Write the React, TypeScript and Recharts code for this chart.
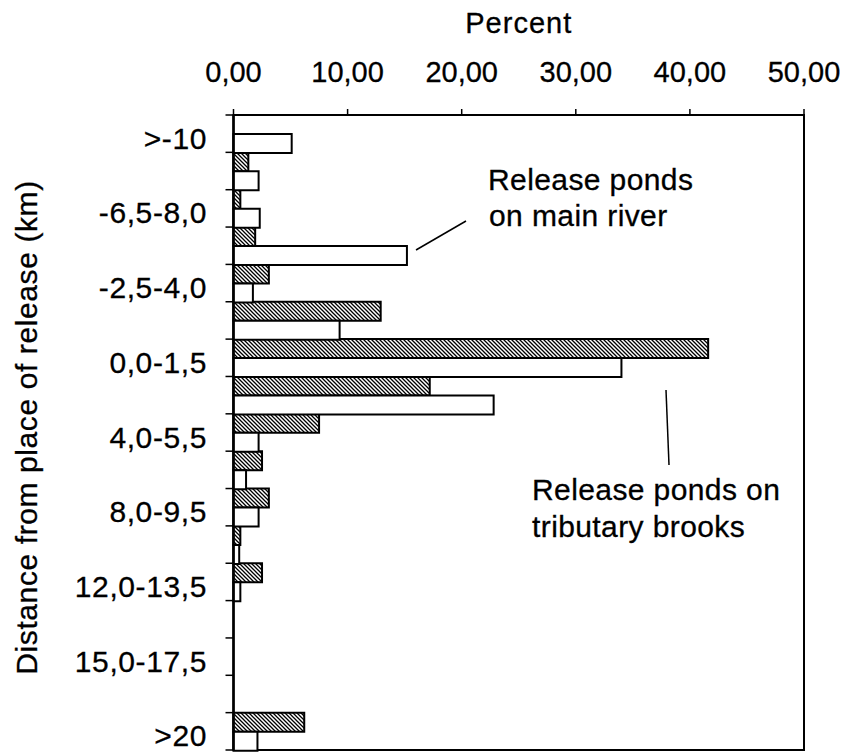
import { BarChart, Bar, XAxis, YAxis, ReferenceArea } from 'recharts';

const FONT = '"Liberation Sans", Arial, Helvetica, sans-serif';

// distance classes (km), only every other one is labelled on the axis
const DISTANCES = [
  '>-10', '-8,0-10,0', '-6,5-8,0', '-4,0-6,5', '-2,5-4,0', '-0,0-2,5',
  '0,0-1,5', '1,5-4,0', '4,0-5,5', '5,5-8,0', '8,0-9,5', '9,5-12,0',
  '12,0-13,5', '13,5-15,0', '15,0-17,5', '17,5-20,0', '>20',
];
// percent of recaptures, ponds on tributary brooks (hatched)
const TRIBUTARY = [0, 1.3, 0.6, 1.9, 3.1, 12.9, 41.6, 17.2, 7.5, 2.5, 3.1, 0.6, 2.5, 0, 0, 0, 6.2];
// percent of recaptures, ponds on main river (white)
const MAIN_RIVER = [5.1, 2.2, 2.3, 15.2, 1.7, 9.3, 34.0, 22.8, 2.2, 1.1, 2.2, 0.5, 0.6, 0, 0, 0, 2.1];
const PERCENT_TICKS = [0, 10, 20, 30, 40, 50];

const data = DISTANCES.map((d, i) => ({
  distance: d,
  tributary: TRIBUTARY[i],
  main: MAIN_RIVER[i],
}));

const fmtPercent = (v: number) => v.toFixed(2).replace('.', ',');

// scanned print looks a bit heavier than plain Liberation Sans
const textStyle = (spacing: number) => ({ letterSpacing: `${spacing}px`, stroke: '#000', strokeWidth: 0.3 });

const LABEL_GAP = 26.5;
const TICK_LEN = 8;

function PercentTick({ x, y, payload }: any) {
  return (
    <text x={x} y={y} textAnchor="middle" fontSize={29} fill="#000" fontFamily={FONT} style={textStyle(0)}>
      {fmtPercent(payload.value)}
    </text>
  );
}

// category tick: class-boundary tick marks + label on every other class
function DistanceTick({ x, y, payload, index }: any) {
  const axisX = x + LABEL_GAP;
  const half = payload.offset ?? 0;
  const last = index === DISTANCES.length - 1;
  return (
    <g>
      <line x1={axisX - TICK_LEN} x2={axisX} y1={y - half} y2={y - half} stroke="#000" strokeWidth={1.5} />
      {last && <line x1={axisX - TICK_LEN} x2={axisX} y1={y + half} y2={y + half} stroke="#000" strokeWidth={1.5} />}
      {index % 2 === 0 && (
        <text x={x} y={y} dy={15} textAnchor="end" fontSize={30} fill="#000" fontFamily={FONT} style={textStyle(0.6)}>
          {payload.value}
        </text>
      )}
    </g>
  );
}

export default function App() {
  return (
    <div style={{ position: 'absolute', left: 0, top: 0, background: '#fff' }}>
      <BarChart
        width={851}
        height={752}
        data={data}
        layout="vertical"
        barCategoryGap={0}
        barGap={0}
        margin={{ top: 0, right: 47, bottom: 2, left: 0 }}
      >
        <defs>
          <pattern id="hatch" patternUnits="userSpaceOnUse" width={4} height={4}>
            <rect width={4} height={4} fill="#fff" />
            <path d="M0,0 L4,4 M-1,3 L1,5 M3,-1 L5,1" stroke="#000" strokeWidth={1.3} />
          </pattern>
        </defs>
        <XAxis
          type="number"
          orientation="top"
          domain={[0, 50]}
          ticks={PERCENT_TICKS}
          height={115}
          tick={<PercentTick />}
          tickSize={6}
          tickMargin={27}
          axisLine={{ stroke: '#000', strokeWidth: 2 }}
          tickLine={{ stroke: '#000', strokeWidth: 1.5 }}
        />
        <YAxis
          type="category"
          dataKey="distance"
          width={233.5}
          interval={0}
          tick={<DistanceTick />}
          tickSize={0}
          tickMargin={LABEL_GAP}
          axisLine={{ stroke: '#000', strokeWidth: 2.5 }}
          tickLine={false}
        />
        <ReferenceArea x1={0} x2={50} fill="none" stroke="#000" strokeWidth={2} ifOverflow="visible" />
        <Bar dataKey="tributary" fill="url(#hatch)" stroke="#000" strokeWidth={2} isAnimationActive={false} />
        <Bar dataKey="main" fill="#fff" stroke="#000" strokeWidth={2} isAnimationActive={false} />
        <text x={518.75} y={33} textAnchor="middle" fontSize={29} fill="#000" fontFamily={FONT} style={textStyle(1)}>
          Percent
        </text>
        <text
          transform="translate(37, 427.5) rotate(-90)"
          textAnchor="middle"
          fontSize={30}
          fill="#000"
          fontFamily={FONT}
          style={textStyle(0.6)}
        >
          Distance from place of release (km)
        </text>
        <line x1={416} y1={250} x2={466} y2={221} stroke="#000" strokeWidth={1.5} />
        <text x={488} y={190} fontSize={30} fill="#000" fontFamily={FONT} style={textStyle(0.4)}>
          <tspan x={488}>Release ponds</tspan>
          <tspan x={489} dy={36}>on main river</tspan>
        </text>
        <line x1={666} y1={390} x2={669} y2={465} stroke="#000" strokeWidth={1.5} />
        <text x={532} y={500} fontSize={30} fill="#000" fontFamily={FONT} style={textStyle(0.4)}>
          <tspan x={532}>Release ponds on</tspan>
          <tspan x={532} dy={37}>tributary brooks</tspan>
        </text>
      </BarChart>
    </div>
  );
}
